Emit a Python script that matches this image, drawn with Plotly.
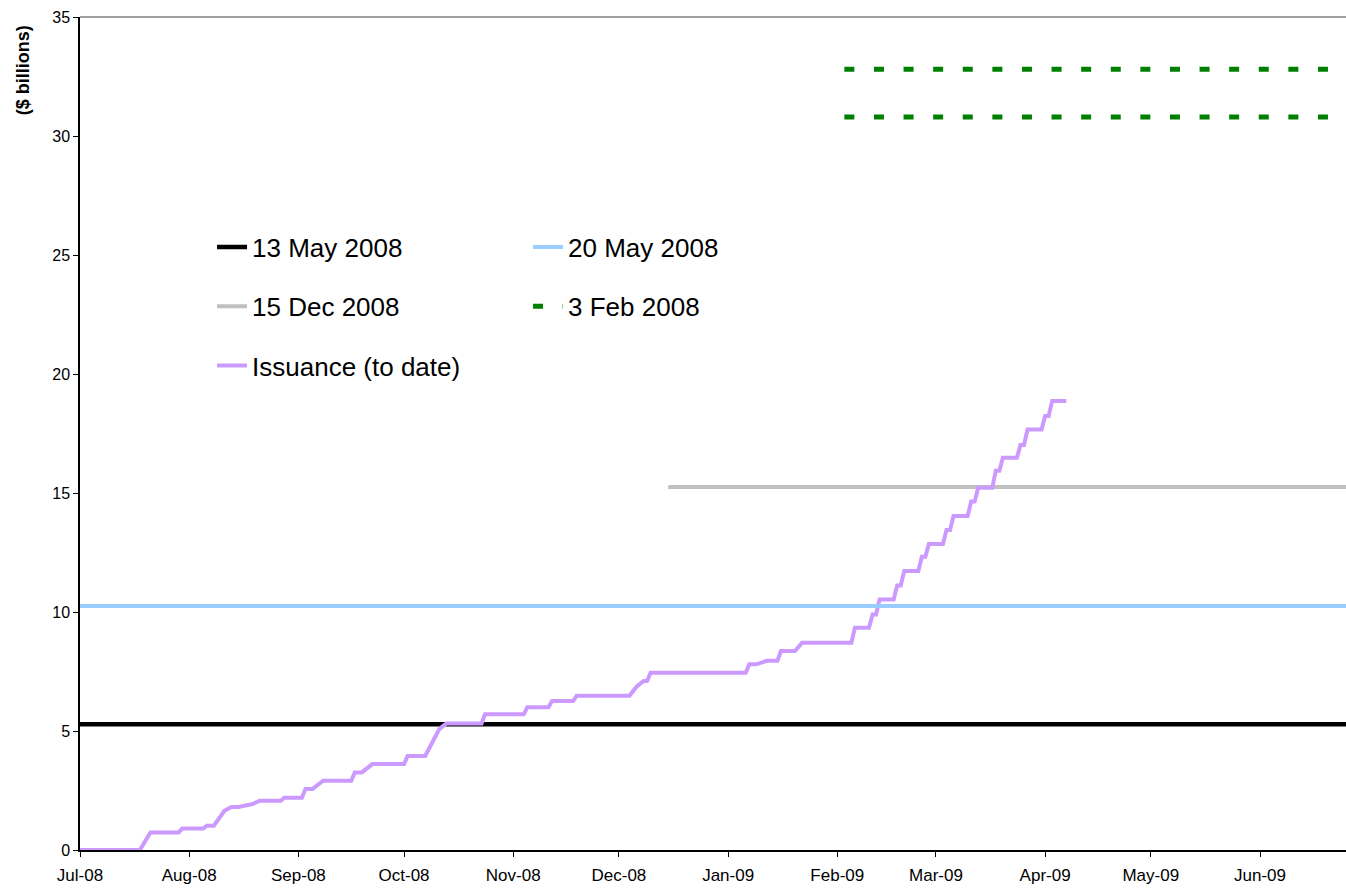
import plotly.graph_objects as go

# ---------------- data ----------------
issuance_dates = [
    "2008-07-01", "2008-07-18", "2008-07-21", "2008-07-29", "2008-07-30", "2008-08-05",
    "2008-08-06", "2008-08-08", "2008-08-11", "2008-08-13", "2008-08-15", "2008-08-19",
    "2008-08-21", "2008-08-27", "2008-08-28", "2008-09-02", "2008-09-03", "2008-09-05",
    "2008-09-08", "2008-09-16", "2008-09-17", "2008-09-19", "2008-09-22", "2008-10-01",
    "2008-10-02", "2008-10-07", "2008-10-11", "2008-10-13", "2008-10-23", "2008-10-24",
    "2008-11-04", "2008-11-05", "2008-11-11", "2008-11-12", "2008-11-18", "2008-11-19",
    "2008-12-04", "2008-12-06", "2008-12-08", "2008-12-09", "2008-12-10", "2009-01-06",
    "2009-01-07", "2009-01-09", "2009-01-12", "2009-01-15", "2009-01-16", "2009-01-20",
    "2009-01-22", "2009-02-05", "2009-02-06", "2009-02-10", "2009-02-11", "2009-02-12",
    "2009-02-13", "2009-02-17", "2009-02-18", "2009-02-19", "2009-02-20", "2009-02-24",
    "2009-02-25", "2009-02-26", "2009-02-27", "2009-03-03", "2009-03-04", "2009-03-05",
    "2009-03-06", "2009-03-10", "2009-03-11", "2009-03-12", "2009-03-13", "2009-03-17",
    "2009-03-18", "2009-03-19", "2009-03-20", "2009-03-24", "2009-03-25", "2009-03-26",
    "2009-03-27", "2009-03-31", "2009-04-01", "2009-04-02", "2009-04-03", "2009-04-07",
]
issuance_values = [
    0, 0, 0.74, 0.74, 0.90, 0.90,
    1.02, 1.02, 1.65, 1.81, 1.81, 1.93,
    2.07, 2.07, 2.20, 2.20, 2.56, 2.56,
    2.91, 2.91, 3.26, 3.26, 3.61, 3.61,
    3.95, 3.95, 5.08, 5.32, 5.32, 5.70,
    5.70, 6.00, 6.00, 6.26, 6.26, 6.48,
    6.48, 6.86, 7.10, 7.10, 7.45, 7.45,
    7.80, 7.80, 7.95, 7.95, 8.36, 8.36,
    8.71, 8.71, 9.34, 9.34, 9.90, 9.90,
    10.53, 10.53, 11.11, 11.11, 11.72, 11.72,
    12.32, 12.32, 12.86, 12.86, 13.45, 13.45,
    14.03, 14.03, 14.64, 14.64, 15.22, 15.22,
    15.94, 15.94, 16.48, 16.48, 17.02, 17.02,
    17.67, 17.67, 18.24, 18.24, 18.87, 18.87,
]

# projection levels ($ billions): start date, end date, level
may13_dates = ["2008-07-01", "2009-06-30"]
may13_level = 5.28
may20_dates = ["2008-07-01", "2009-06-30"]
may20_level = 10.25
dec15_dates = ["2008-12-15", "2009-06-30"]
dec15_level = 15.25
feb3_dates = ["2009-02-03", "2009-06-30"]
feb3_levels = [32.8, 30.8]

x_range = ["2008-07-01", "2009-06-25 10:00"]
y_ticks = [0, 5, 10, 15, 20, 25, 30, 35]

FONT = "Arial, 'Liberation Sans', sans-serif"

fig = go.Figure()

fig.add_trace(go.Scatter(
    x=may13_dates, y=[may13_level] * len(may13_dates), mode="lines",
    name="13 May 2008", line=dict(color="#000000", width=4.5),
    legend="legend", legendgroup="a"))
fig.add_trace(go.Scatter(
    x=dec15_dates, y=[dec15_level] * len(dec15_dates), mode="lines",
    name="15 Dec 2008", line=dict(color="#C0C0C0", width=4),
    legend="legend", legendgroup="b"))
fig.add_trace(go.Scatter(
    x=issuance_dates, y=issuance_values, mode="lines",
    name="Issuance (to date)", line=dict(color="#CC99FF", width=4),
    legend="legend", legendgroup="c"))
fig.add_trace(go.Scatter(
    x=may20_dates, y=[may20_level] * len(may20_dates), mode="lines",
    name="20 May 2008", line=dict(color="#99CCFF", width=4),
    legend="legend2", legendgroup="d"))
for i, lvl in enumerate(feb3_levels):
    fig.add_trace(go.Scatter(
        x=feb3_dates, y=[lvl] * len(feb3_dates), mode="lines",
        name="3 Feb 2008", line=dict(color="#008000", width=5, dash="10px,19.6px"),
        legend="legend2", legendgroup="e", showlegend=(i == 0)))

legend_common = dict(
    orientation="v", xanchor="left", yanchor="top",
    bgcolor="rgba(0,0,0,0)", borderwidth=0,
    font=dict(family=FONT, size=26, color="#000000"),
    tracegroupgap=22.5, traceorder="grouped",
)

fig.update_layout(
    width=1346, height=889,
    margin=dict(l=80, r=0, t=17, b=39),
    paper_bgcolor="white", plot_bgcolor="white",
    font=dict(family=FONT, color="#000000"),
    legend=dict(x=0.1043, y=0.752, **legend_common),
    legend2=dict(x=0.3539, y=0.752, **legend_common),
    xaxis=dict(
        type="date", range=x_range, dtick="M1", tick0="2008-07-01",
        tickformat="%b-%y", ticks="outside", ticklen=5, tickcolor="#000000",
        ticklabelstandoff=4,
        showline=True, linecolor="#000000", linewidth=1.5,
        showgrid=False, zeroline=False,
        tickfont=dict(family=FONT, size=17, color="#000000"),
    ),
    yaxis=dict(
        range=[0, 35], tickvals=y_ticks, ticks="outside", ticklen=5,
        tickcolor="#000000", showline=True, linecolor="#000000", linewidth=1.5,
        showgrid=False, zeroline=False,
        tickfont=dict(family=FONT, size=16, color="#000000"),
    ),
    annotations=[dict(
        text="<b>($ billions)</b>", xref="paper", yref="paper",
        x=-0.0455, y=0.993, xanchor="center", yanchor="top", textangle=-90,
        showarrow=False, font=dict(family=FONT, size=18, color="#000000"),
    )],
    shapes=[dict(
        type="line", xref="paper", yref="paper", x0=0, x1=1, y0=1, y1=1,
        line=dict(color="#808080", width=1.5),
    )],
)

fig.write_html(
    "out.html",
    config={"displayModeBar": False},
    post_script="document.body.style.margin='0';document.body.style.overflow='hidden';",
)
